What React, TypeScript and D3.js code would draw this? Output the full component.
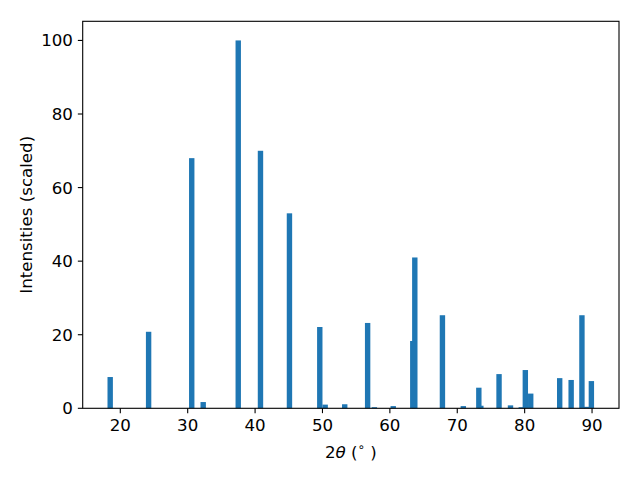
import * as d3 from "d3";

// peak positions (2theta, degrees) and scaled intensities
const positions = [18.5, 24.2, 30.6, 32.3, 37.5, 40.8, 45.1, 49.6, 50.4, 53.3, 56.7, 57.7, 60.5, 63.4, 63.7, 67.8, 70.9, 73.2, 73.5, 76.2, 77.9, 79.5, 80.1, 80.9, 85.2, 86.9, 88.5, 89.2, 89.9];
const intensities = [8.5, 20.8, 68, 1.7, 100, 70, 53, 22.1, 1.0, 1.1, 23.2, 0.3, 0.6, 18.3, 41, 25.3, 0.6, 5.6, 0.7, 9.3, 0.8, 0.3, 10.4, 4.0, 8.2, 7.7, 25.3, 0.4, 7.4];
const xTicks = [20, 30, 40, 50, 60, 70, 80, 90];
const yTicks = [0, 20, 40, 60, 80, 100];

const barWidth = 0.8;

export default function App() {
  const width = 640;
  const height = 480;
  const left = 82.7, right = 619, top = 21.3, bottom = 408.3;

  const x = d3.scaleLinear().domain([14.42, 94.0]).range([left, right]);
  const y = d3.scaleLinear().domain([0, 105.2]).range([bottom, top]);

  const font = "'DejaVu Sans', sans-serif";
  const fs = 16.67;
  const tickLen = 4.86;

  return (
    <svg width={width} height={height} style={{ position: "absolute", left: 0, top: 0, background: "white" }}>
      <rect x={0} y={0} width={width} height={height} fill="white" />
      <g fill="#1f77b4">
        {positions.map((p, i) => (
          <rect
            key={i}
            x={x(p - barWidth / 2)}
            y={y(intensities[i])}
            width={x(p + barWidth / 2) - x(p - barWidth / 2)}
            height={y(0) - y(intensities[i])}
          />
        ))}
      </g>
      <rect x={left} y={top} width={right - left} height={bottom - top} fill="none" stroke="black" strokeWidth={1.1} />
      <g fontFamily={font} fontSize={fs} fill="black">
        {xTicks.map((t) => (
          <g key={t}>
            <line x1={x(t)} x2={x(t)} y1={bottom} y2={bottom + tickLen} stroke="black" strokeWidth={1.1} />
            <text x={x(t)} y={430.5} textAnchor="middle">{t}</text>
          </g>
        ))}
        {yTicks.map((t) => (
          <g key={t}>
            <line x1={left - tickLen} x2={left} y1={y(t)} y2={y(t)} stroke="black" strokeWidth={1.1} />
            <text x={left - tickLen - 4.86} y={y(t)} dy="0.36em" textAnchor="end">{t}</text>
          </g>
        ))}
        <text x={(left + right) / 2} y={458} textAnchor="middle">
          2<tspan fontStyle="italic">θ</tspan> (<tspan fontSize={fs * 0.7} dy={-7}>∘</tspan><tspan dy={7}> )</tspan>
        </text>
        <text transform={`translate(26,${(top + bottom) / 2}) rotate(-90)`} dy="0.36em" textAnchor="middle">
          Intensities (scaled)
        </text>
      </g>
    </svg>
  );
}
